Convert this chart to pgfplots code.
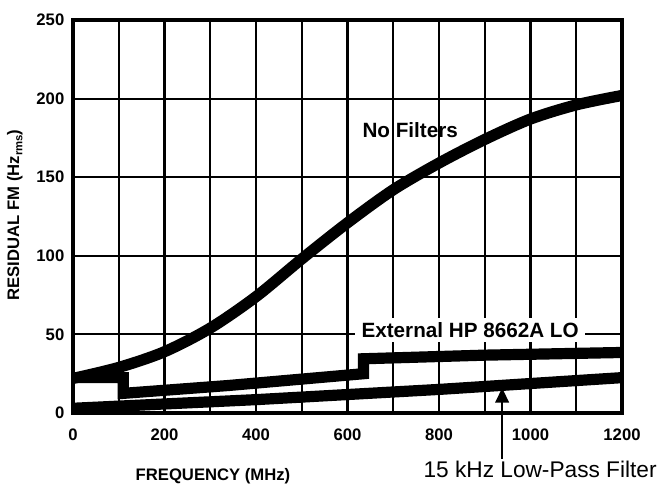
\documentclass[border=0pt]{standalone}
\usepackage{fontspec}
\setmainfont{Liberation Sans}
\usepackage{pgfplots}
\pgfplotsset{compat=1.18}
\usetikzlibrary{arrows.meta}
\begin{document}
\begin{tikzpicture}
\useasboundingbox (-54.75pt,-52.5pt) rectangle (440.25pt,309.75pt);
\begin{axis}[
  at={(0,0)}, anchor=south west,
  scale only axis, width=411.75pt, height=294.75pt,
  xmin=0, xmax=1200, ymin=0, ymax=250,
  xtick={0,200,...,1200}, minor xtick={100,300,...,1100},
  ytick={0,50,...,250},
  grid=both,
  major grid style={black, line width=1.6pt},
  minor grid style={black, line width=1.6pt},
  axis line style={line width=2.4pt},
  major tick length=0pt, minor tick length=0pt,
  tick style={draw=none},
  /pgf/number format/assume math mode=true,
  /pgf/number format/1000 sep={},
  ticklabel style={font=\bfseries\fontsize{12.5}{15}\selectfont},
  xticklabel style={yshift=-8pt},
  yticklabel style={xshift=-3pt},
  clip=false,
]
% No Filters
\addplot[black, line width=8.4pt, smooth] coordinates {
(0,22) (100,29) (200,39) (300,54) (400,74) (500,98) (600,121) (700,142)
(800,159) (900,174) (1000,187) (1100,196) (1200,202)};
% External HP 8662A LO
\addplot[black, line width=8.4pt, line join=miter] coordinates {
(0,22.5) (110,22.5) (110,12.5) (340,17.5) (635,25) (635,34.5) (900,36.8) (1200,38.5)};
% 15 kHz Low-Pass Filter
\addplot[black, line width=8.4pt] coordinates {
(0,3) (400,8.5) (800,15) (1200,22.5)};

\node[font=\bfseries\fontsize{15.5}{18}\selectfont] at (axis cs:737,180) {No Filters};
\node[fill=white, inner xsep=5pt, inner ysep=3pt, font=\bfseries\fontsize{15.5}{18}\selectfont]
  at (axis cs:868,52.8) {External HP 8662A LO};
\node[font=\fontsize{17}{20}\selectfont] at (axis cs:1021,-36) {15 kHz Low-Pass Filter};
\node[font=\bfseries\fontsize{12.5}{15}\selectfont] at (axis cs:306,-40) {FREQUENCY (MHz)};
\node[rotate=90, font=\bfseries\fontsize{12.5}{15}\selectfont] at (axis cs:-127,126)
  {RESIDUAL FM (Hz\raisebox{-0.35ex}{\fontsize{8.5}{9}\selectfont rms})};
\draw[line width=1.9pt, -{Triangle[length=11pt,width=10pt]}] (axis cs:938,-29) -- (axis cs:938,16);
\end{axis}
\end{tikzpicture}
\end{document}
